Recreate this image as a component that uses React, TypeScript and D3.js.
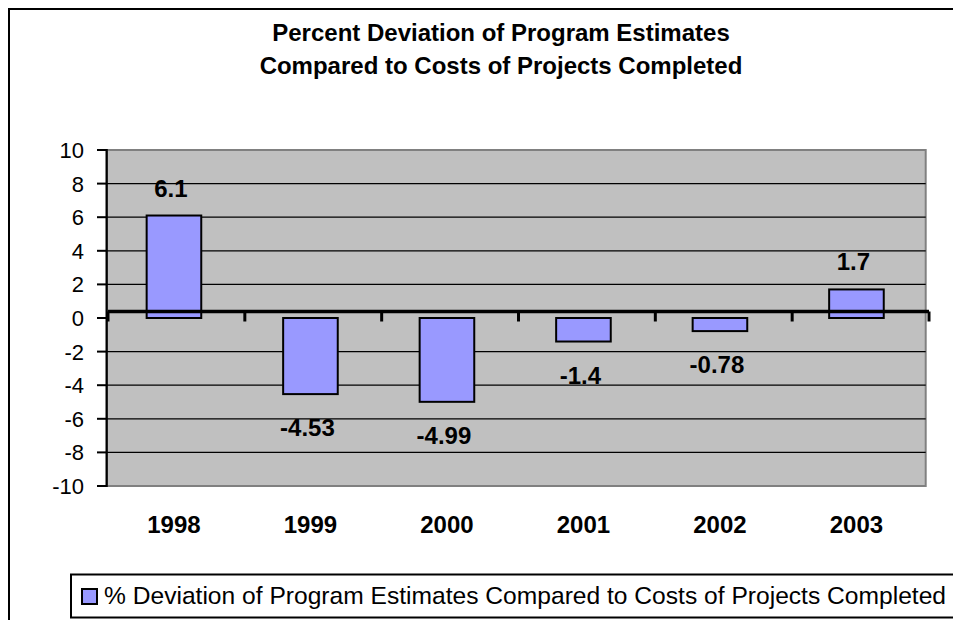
import React from "react";
import * as d3 from "d3";

const years: string[] = ["1998", "1999", "2000", "2001", "2002", "2003"];
const values: number[] = [6.1, -4.53, -4.99, -1.4, -0.78, 1.7];
const valueLabels: string[] = ["6.1", "-4.53", "-4.99", "-1.4", "-0.78", "1.7"];
const yTicks: number[] = [10, 8, 6, 4, 2, 0, -2, -4, -6, -8, -10];
const titleLines: string[] = [
  "Percent Deviation of Program Estimates",
  "Compared to Costs of Projects Completed",
];
const legendLabel = "% Deviation of Program Estimates Compared to Costs of Projects Completed";

const FONT = "'Liberation Sans', Arial, sans-serif";
const BAR_FILL = "#9999FF";
const PLOT_FILL = "#C0C0C0";

export default function App() {
  const plotL = 106.7;
  const plotR = 925.7;
  const plotT = 150;
  const plotB = 486;

  const x = d3.scaleBand<string>().domain(years).range([plotL, plotR]).padding(0);
  const y = d3.scaleLinear().domain([-10, 10]).range([plotB, plotT]);
  const axisX = d3.scaleLinear().domain([0, years.length]).range([108, 929]);
  const barW = x.bandwidth() * 0.4;
  const cx = (yr: string) => (x(yr) as number) + x.bandwidth() / 2 - 1;
  const axisY = y(0) - 6.5;

  return (
    <svg
      width={953}
      height={620}
      style={{ position: "fixed", left: 0, top: 0, background: "#fff" }}
      fontFamily={FONT}
    >
      {/* outer chart border */}
      <rect x={9} y={9} width={1000} height={700} fill="#fff" stroke="#000" strokeWidth={2} />

      {/* title */}
      {titleLines.map((t, i) => (
        <text key={t} x={501} y={41 + i * 33} textAnchor="middle" fontSize={24} fontWeight="bold" fill="#000">
          {t}
        </text>
      ))}

      {/* plot area */}
      <rect x={plotL} y={plotT} width={plotR - plotL} height={plotB - plotT} fill={PLOT_FILL} stroke="#808080" strokeWidth={2} />

      {/* gridlines */}
      {yTicks
        .filter((v) => v !== 10 && v !== -10 && v !== 0)
        .map((v) => (
          <line key={v} x1={plotL} x2={plotR} y1={y(v)} y2={y(v)} stroke="#000" strokeWidth={1.2} />
        ))}

      {/* bars */}
      {years.map((yr, i) => {
        const v = values[i];
        const top = y(Math.max(0, v));
        const bot = y(Math.min(0, v));
        return (
          <rect
            key={yr}
            x={cx(yr) - barW / 2}
            y={top}
            width={barW}
            height={bot - top}
            fill={BAR_FILL}
            stroke="#000"
            strokeWidth={2}
          />
        );
      })}

      {/* value labels */}
      {years.map((yr, i) => {
        const v = values[i];
        const ly = v >= 0 ? y(v) - 19 : y(v) + 42;
        return (
          <text key={yr} x={cx(yr) - 3} y={ly} textAnchor="middle" fontSize={24} fontWeight="bold" fill="#000">
            {valueLabels[i]}
          </text>
        );
      })}

      {/* category axis */}
      <line x1={axisX(0)} x2={axisX(years.length)} y1={axisY} y2={axisY} stroke="#000" strokeWidth={3.5} />
      {d3.range(years.length + 1).map((k) => (
        <line key={k} x1={axisX(k)} x2={axisX(k)} y1={axisY} y2={axisY + 10} stroke="#000" strokeWidth={3} />
      ))}

      {/* value axis */}
      <line x1={plotL} x2={plotL} y1={plotT - 1} y2={plotB + 1} stroke="#000" strokeWidth={2.2} />
      {yTicks.map((v) => (
        <g key={v}>
          <line x1={97} x2={plotL} y1={y(v)} y2={y(v)} stroke="#000" strokeWidth={2} />
          <text x={84} y={y(v) + 8} textAnchor="end" fontSize={22} fill="#000">
            {v}
          </text>
        </g>
      ))}

      {/* category labels */}
      {years.map((yr) => (
        <text key={yr} x={cx(yr)} y={532.5} textAnchor="middle" fontSize={24} fontWeight="bold" fill="#000">
          {yr}
        </text>
      ))}

      {/* legend */}
      <rect x={71} y={574.5} width={900} height={43} fill="#fff" stroke="#000" strokeWidth={2} />
      <rect x={82} y={589} width={15} height={15} fill={BAR_FILL} stroke="#000" strokeWidth={2} />
      <text x={104} y={604} fontSize={24.6} fill="#000">
        {legendLabel}
      </text>
    </svg>
  );
}
